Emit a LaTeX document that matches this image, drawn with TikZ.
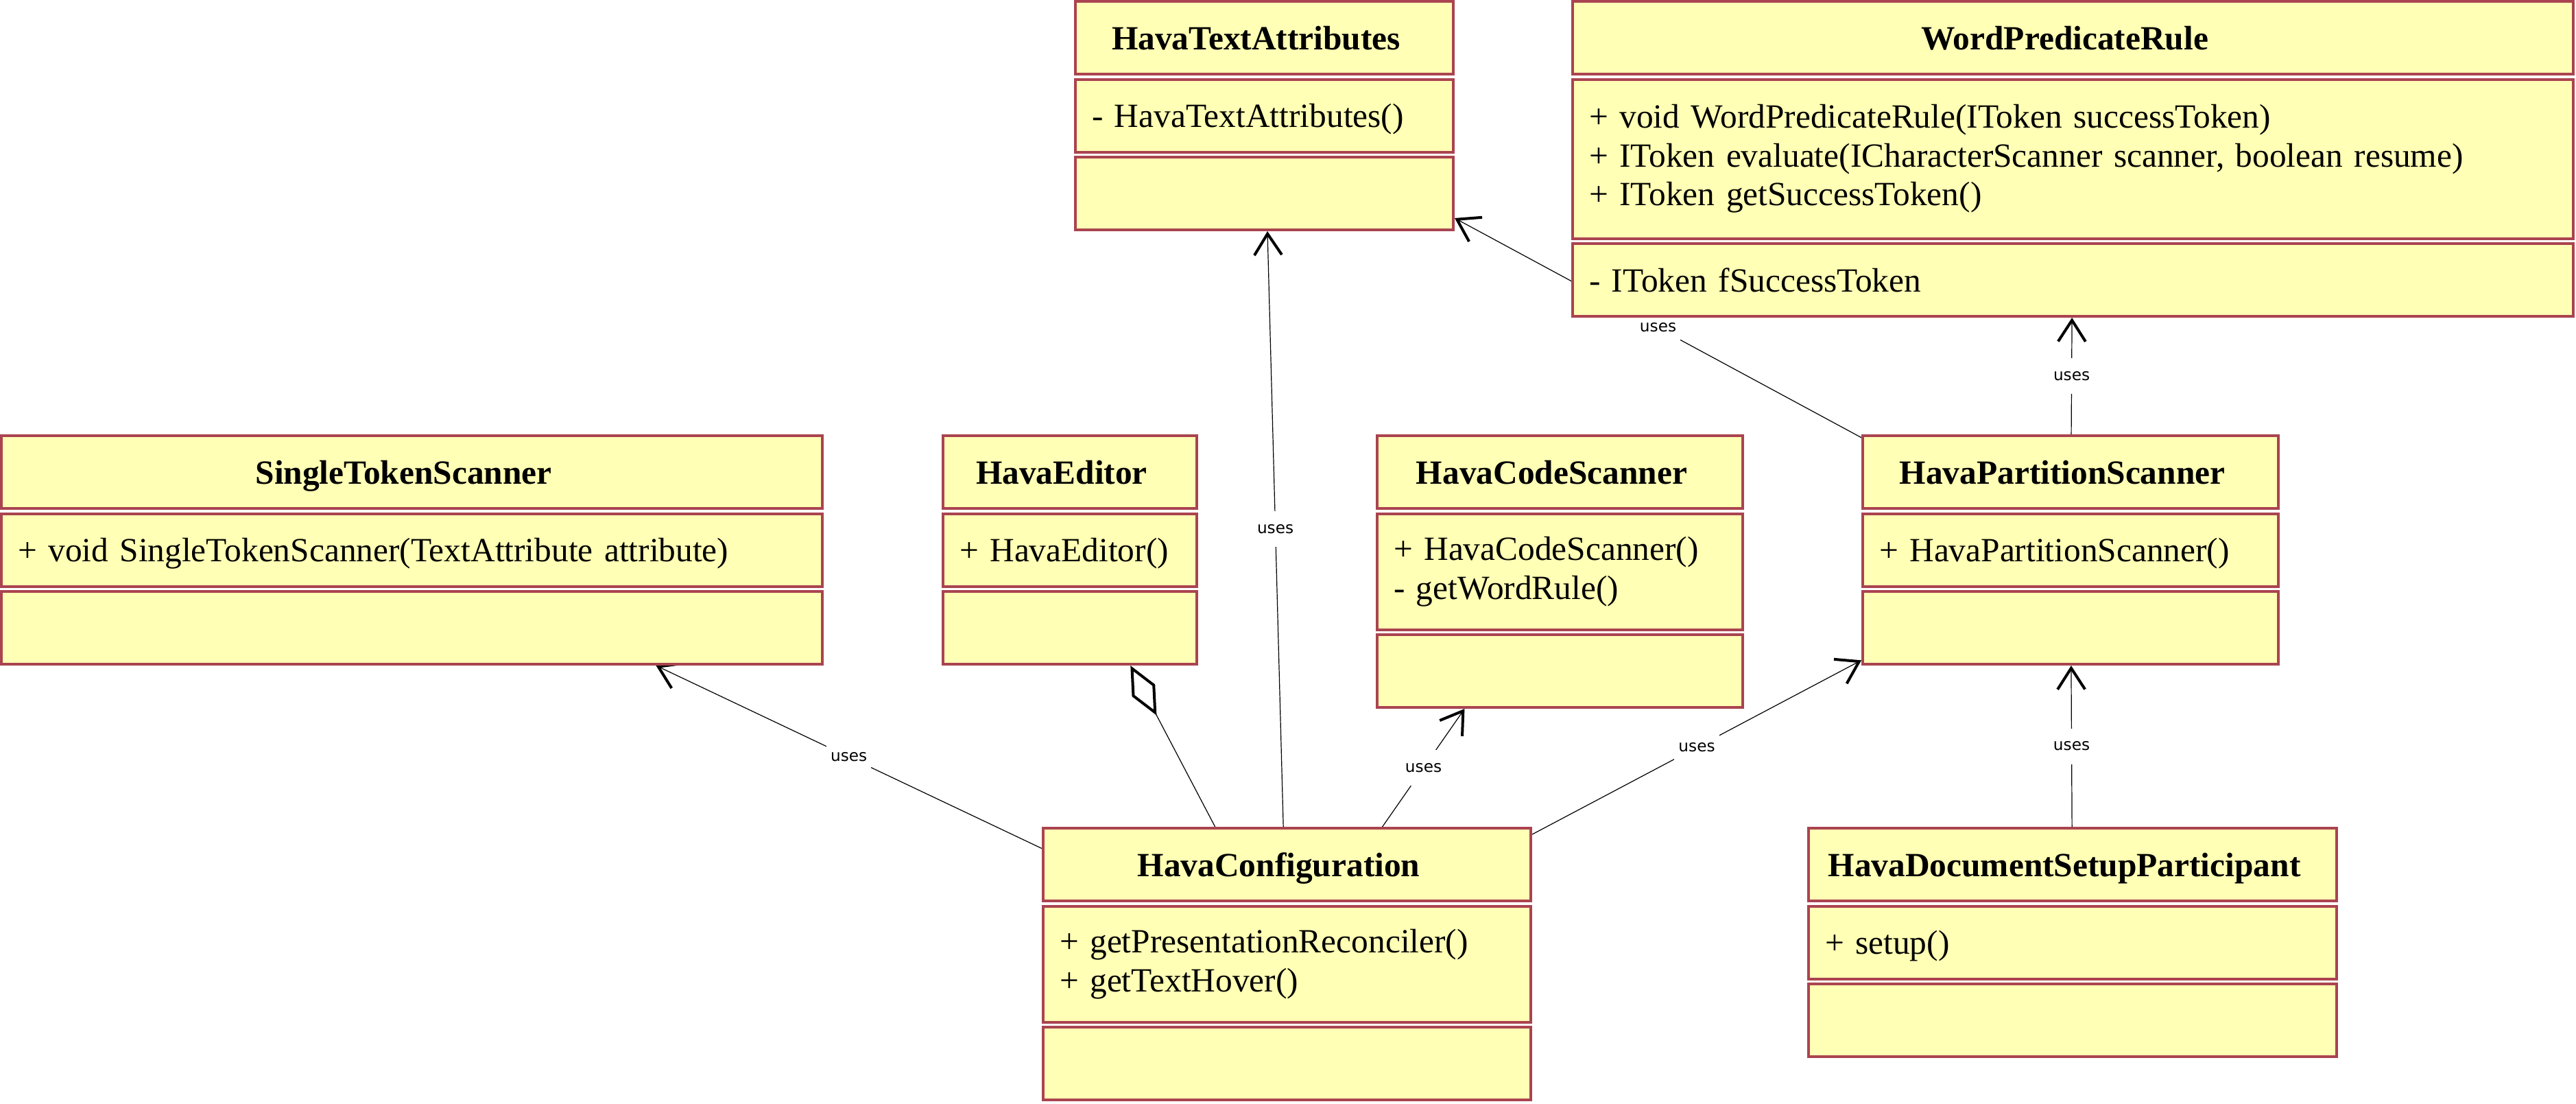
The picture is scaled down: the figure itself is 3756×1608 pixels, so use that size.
\documentclass[tikz,border=0pt]{standalone}
\usepackage{fontspec}
\setmainfont{Liberation Serif}
\newfontfamily\labelfont{DejaVu Sans}
\usetikzlibrary{arrows.meta,fit}
\definecolor{boxfill}{RGB}{255,255,181}
\definecolor{boxline}{RGB}{170,68,80}
\pgfdeclarelayer{bg}
\pgfsetlayers{bg,main}
\tikzset{
  sec/.style={draw=boxline, fill=boxfill, line width=1pt, inner sep=0pt, anchor=north west, minimum height=26.5pt},
  cname/.style={sec, font=\fontsize{12.35pt}{14.17pt}\selectfont\bfseries, text height=8.5pt, text depth=0pt},
  cmulti/.style={sec, font=\fontsize{12.35pt}{14.17pt}\selectfont, align=left, inner xsep=6pt},
  cbody/.style={cmulti, text height=8.5pt, text depth=0pt},
  classbox/.style={inner sep=0pt, outer sep=0pt},
  uses/.style={line width=0.3pt, -{Straight Barb[length=7.75pt,width=10pt,line width=1pt]}},
  agg/.style={line width=0.3pt, -{Diamond[open,length=20.5pt,width=9.5pt,line width=1pt]}},
  lbl/.style={fill=white, font=\labelfont\fontsize{5.8pt}{7pt}\selectfont, inner xsep=1.5pt, inner ysep=3.6pt, text height=4.4pt, text depth=1.4pt},
}
\begin{document}
\begin{tikzpicture}[x=0.25pt, y=-0.25pt]
\useasboundingbox (0,0) rectangle (3756,1608);

% HavaTextAttributes
\node[cname, minimum width=137.75pt] (hta1) at (1566,0) {HavaTextAttributes\hspace*{6pt}};
\node[cbody, text width=125.75pt, minimum width=137.75pt] (hta2) at (1566,113.5) {- HavaTextAttributes()};
\node[sec, minimum width=137.75pt] (hta3) at (1566,227) {};
\node[classbox, fit=(hta1)(hta3)] (hta) {};

% WordPredicateRule
\node[cname, minimum width=364.75pt] (wpr1) at (2291,0) {WordPredicateRule\hspace*{6pt}};
\node[cmulti, text width=352.75pt, minimum width=364.75pt, minimum height=58pt] (wpr2) at (2291,113.5) {+ void WordPredicateRule(IToken successToken)\\+ IToken evaluate(ICharacterScanner scanner, boolean resume)\\+ IToken getSuccessToken()};
\node[cbody, text width=352.75pt, minimum width=364.75pt] (wpr3) at (2291,353) {- IToken fSuccessToken};
\node[classbox, fit=(wpr1)(wpr3)] (wpr) {};

% SingleTokenScanner
\node[cname, minimum width=299.25pt] (sts1) at (0,633) {SingleTokenScanner\hspace*{6pt}};
\node[cbody, text width=287.25pt, minimum width=299.25pt] (sts2) at (0,746.5) {+ void SingleTokenScanner(TextAttribute attribute)};
\node[sec, minimum width=299.25pt] (sts3) at (0,860) {};
\node[classbox, fit=(sts1)(sts3)] (sts) {};

% HavaEditor
\node[cname, minimum width=92.5pt] (he1) at (1373,633) {HavaEditor\hspace*{6pt}};
\node[cbody, text width=80.5pt, minimum width=92.5pt] (he2) at (1373,746.5) {+ HavaEditor()};
\node[sec, minimum width=92.5pt] (he3) at (1373,860) {};
\node[classbox, fit=(he1)(he3)] (he) {};

% HavaCodeScanner
\node[cname, minimum width=133.25pt] (hcs1) at (2006,633) {HavaCodeScanner\hspace*{6pt}};
\node[cmulti, text width=121.25pt, minimum width=133.25pt, minimum height=42.25pt] (hcs2) at (2006,746.5) {+ HavaCodeScanner()\\- getWordRule()};
\node[sec, minimum width=133.25pt] (hcs3) at (2006,923) {};
\node[classbox, fit=(hcs1)(hcs3)] (hcs) {};

% HavaPartitionScanner
\node[cname, minimum width=151.5pt] (hps1) at (2714,633) {HavaPartitionScanner\hspace*{6pt}};
\node[cbody, text width=139.5pt, minimum width=151.5pt] (hps2) at (2714,746.5) {+ HavaPartitionScanner()};
\node[sec, minimum width=151.5pt] (hps3) at (2714,860) {};
\node[classbox, fit=(hps1)(hps3)] (hps) {};

% HavaConfiguration
\node[cname, minimum width=177.75pt] (hc1) at (1519,1205) {HavaConfiguration\hspace*{6pt}};
\node[cmulti, text width=165.75pt, minimum width=177.75pt, minimum height=42.25pt] (hc2) at (1519,1318.5) {+ getPresentationReconciler()\\+ getTextHover()};
\node[sec, minimum width=177.75pt] (hc3) at (1519,1495) {};
\node[classbox, fit=(hc1)(hc3)] (hc) {};

% HavaDocumentSetupParticipant
\node[cname, minimum width=192.5pt] (hdsp1) at (2635,1205) {HavaDocumentSetupParticipant\hspace*{6pt}};
\node[cbody, text width=180.5pt, minimum width=192.5pt] (hdsp2) at (2635,1318.5) {+ setup()};
\node[sec, minimum width=192.5pt] (hdsp3) at (2635,1432) {};
\node[classbox, fit=(hdsp1)(hdsp3)] (hdsp) {};

% connectors
\begin{pgfonlayer}{bg}
\draw[uses] (hc) -- node[lbl] (l1) {uses} (sts);
\draw[agg] (hc) -- (he);
\draw[uses] (hc) -- node[lbl] (l2) {uses} (hta);
\draw[uses] (hc) -- node[lbl] (l3) {uses} (hcs);
\draw[uses] (hc) -- node[lbl] (l4) {uses} (hps);
\draw[uses] (hps) -- node[lbl] (l5) {uses} (hta);
\draw[uses] (hps) -- node[lbl] (l6) {uses} (wpr);
\draw[uses] (hdsp) -- node[lbl] (l7) {uses} (hps);
\end{pgfonlayer}
\end{tikzpicture}
\end{document}
